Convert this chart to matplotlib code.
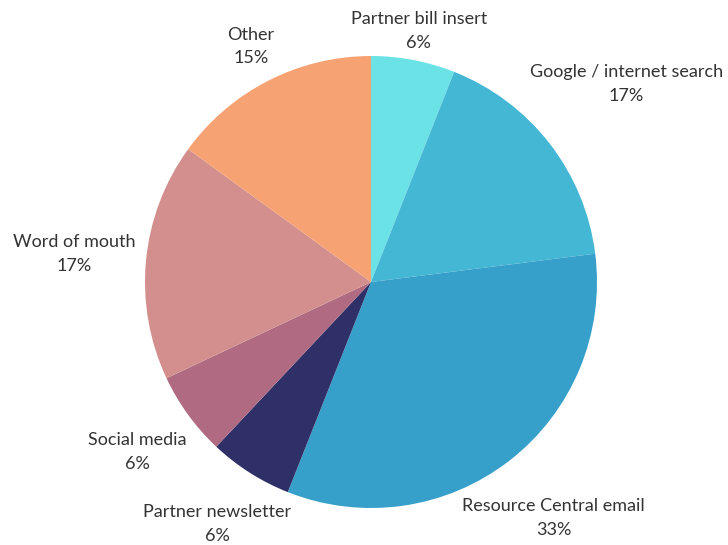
import matplotlib
matplotlib.use("Agg")
import matplotlib.pyplot as plt
import numpy as np

plt.rcParams['font.family'] = ['Lato', 'DejaVu Sans']

labels = ["Partner bill insert", "Google / internet search", "Resource Central email",
          "Partner newsletter", "Social media", "Word of mouth", "Other"]
values = [6, 17, 33, 6, 6, 17, 15]
colors = ["#6ae2e6", "#44b7d5", "#37a0ca", "#2e3067", "#b06a81", "#d38f8d", "#f7a273"]
# how far out each label sits (in radii), along its slice's middle angle
label_dist = [1.13, 1.43, 1.32, 1.27, 1.28, 1.32, 1.17]

fig = plt.figure(figsize=(7.28, 5.45), dpi=100)
ax = fig.add_axes([0, 0, 1, 1])

wedges, _ = ax.pie(values, colors=colors, startangle=90, counterclock=False,
                   wedgeprops=dict(linewidth=0))

total = float(sum(values))
for w, lab, v, d in zip(wedges, labels, values, label_dist):
    mid = np.deg2rad((w.theta1 + w.theta2) / 2.0)
    x, y = d * np.cos(mid), d * np.sin(mid)
    ax.text(x, y, "%s\n%d%%" % (lab, round(v / total * 100)), ha='center', va='center',
            fontsize=13, color='#333333', linespacing=1.6)

# center the pie at (371, 282) px with a 226 px radius
ax.set_xlim(-371 / 226, (728 - 371) / 226)
ax.set_ylim((282 - 545) / 226, 282 / 226)
ax.set_aspect('auto')
ax.axis('off')

fig.savefig("out.png", dpi=100)
